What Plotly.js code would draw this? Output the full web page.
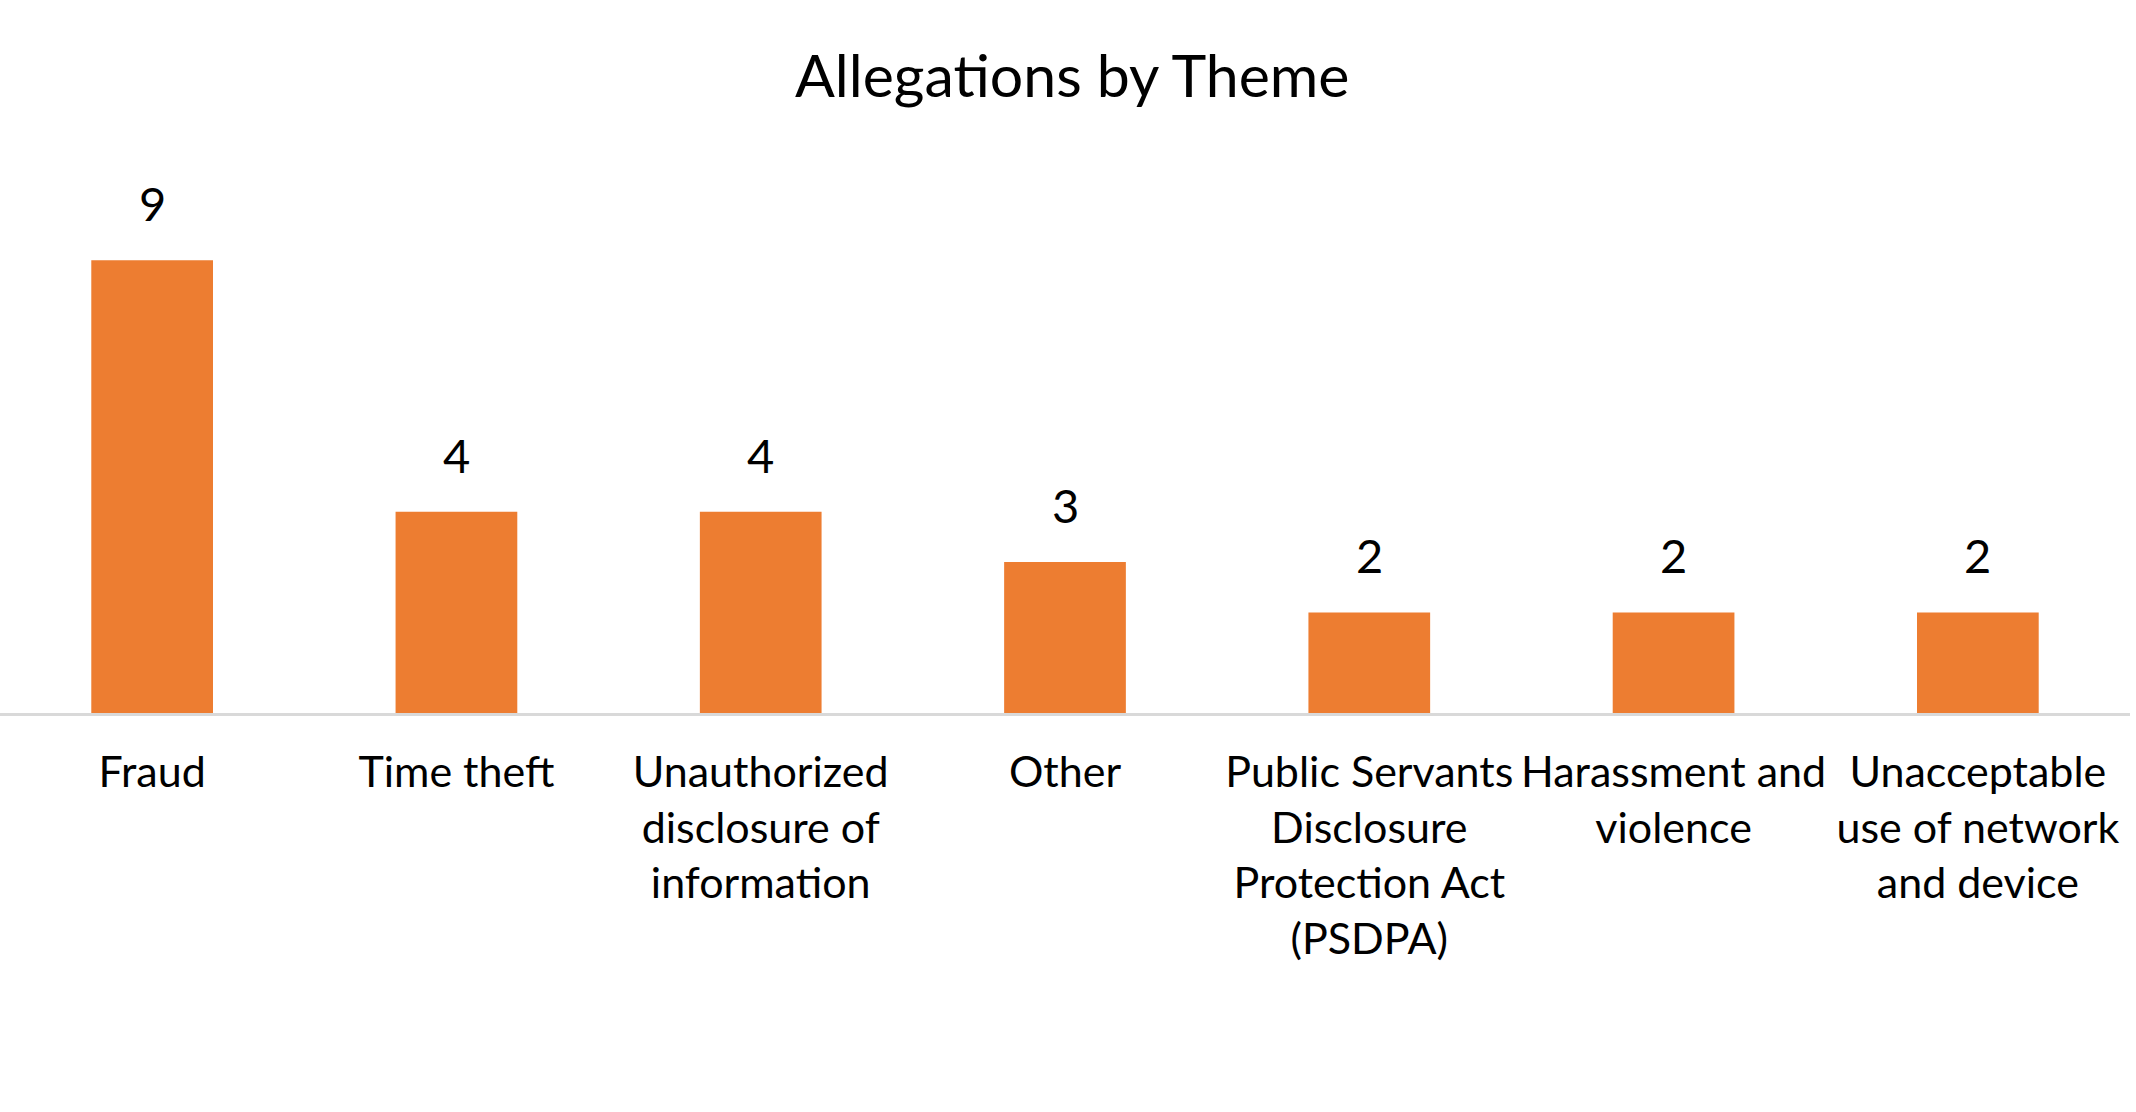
<!DOCTYPE html>
<html>
<head>
<meta charset="utf-8">
<script src="https://cdn.plot.ly/plotly-3.0.1.min.js"></script>
<style>
  html, body { margin: 0; padding: 0; background: #fff; }
  #chart { width: 2136px; height: 1112px; }
</style>
</head>
<body>
<div id="chart"></div>
<script>
// Allegations by theme, counts
var themes = [
  'Fraud',
  'Time theft',
  'Unauthorized<br>disclosure of<br>information',
  'Other',
  'Public Servants<br>Disclosure<br>Protection Act<br>(PSDPA)',
  'Harassment and<br>violence',
  'Unacceptable<br>use of network<br>and device',
];
var counts = [9, 4, 4, 3, 2, 2, 2];

var font_family = 'Lato, "Open Sans", sans-serif';

var chart_data = [
  {
    x: themes,
    y: counts,
    type: 'bar',
    marker: {
      color: '#ED7D31', // office orange
    },
    hoverinfo: 'x+y',
  },
];

// value labels sit a bit higher above the bars than plotly's 'outside' text
var value_labels = themes.map(function (t, i) {
  return {
    x: t,
    y: counts[i],
    text: String(counts[i]),
    showarrow: false,
    yanchor: 'bottom',
    yshift: 27,
    font: { family: font_family, size: 47, color: '#000' },
  };
});

var layout = {
  width: 2136,
  height: 1112,
  margin: { l: 0, r: 6, t: 210, b: 399 },
  paper_bgcolor: '#fff',
  plot_bgcolor: '#fff',
  title: {
    text: 'Allegations by Theme',
    font: { family: font_family, size: 59, color: '#000' },
    x: 0.502,
    xanchor: 'center',
    y: 0.931,
    yanchor: 'middle',
  },
  bargap: 0.6,
  showlegend: false,
  xaxis: {
    type: 'category',
    showline: true,
    linecolor: '#d9d9d9',
    linewidth: 3,
    showgrid: false,
    ticks: '',
    ticklabelstandoff: 19,
    tickfont: { family: font_family, size: 43, color: '#000' },
  },
  yaxis: {
    range: [0, 10],
    visible: false,
    showgrid: false,
    zeroline: false,
  },
  annotations: value_labels,
};

Plotly.newPlot('chart', chart_data, layout, { staticPlot: true });
</script>
</body>
</html>
